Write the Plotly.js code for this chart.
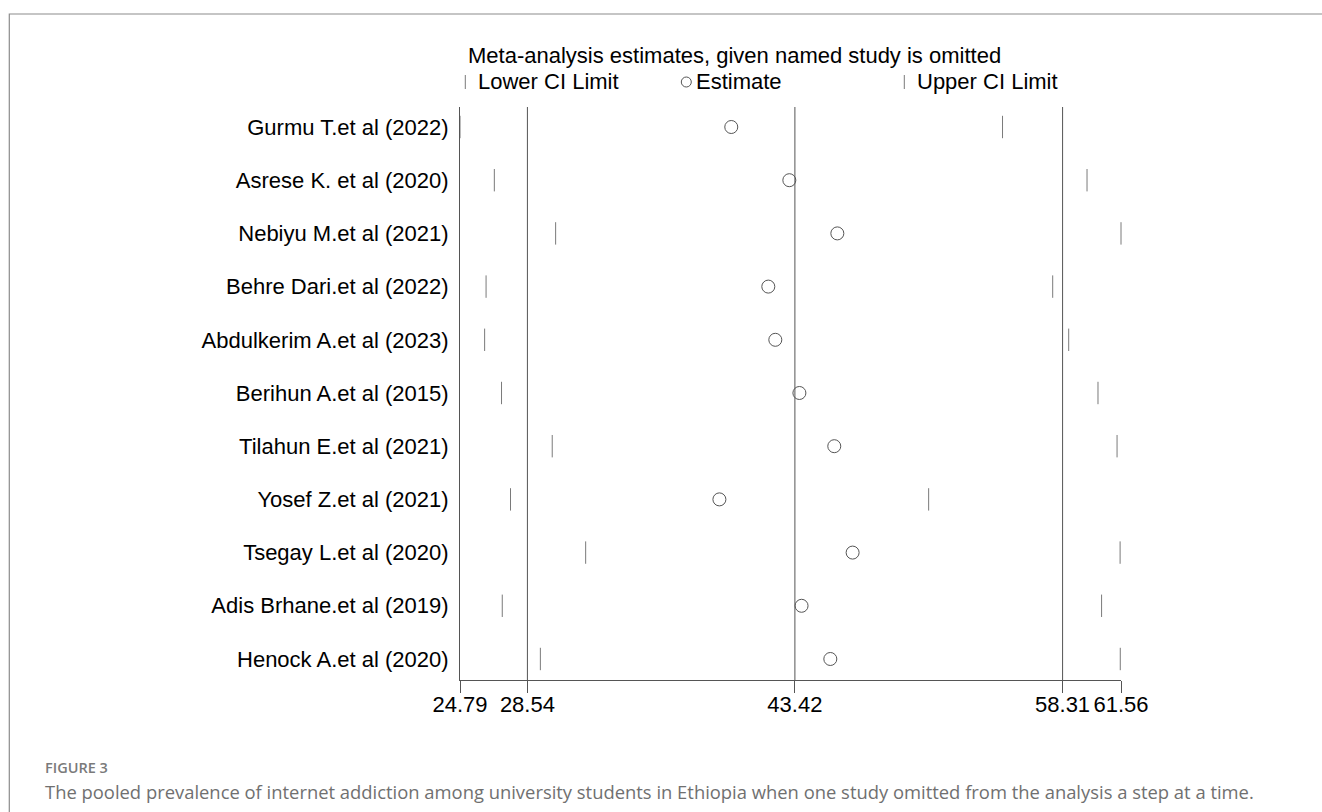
<!DOCTYPE html>
<html>
<head>
<meta charset="utf-8">
<script src="https://cdn.plot.ly/plotly-3.0.1.min.js"></script>
<style>
  html, body { margin: 0; padding: 0; background: #ffffff; }
  #chart { width: 1322px; height: 812px; }
</style>
</head>
<body>
<div id="chart"></div>
<script>
// ---- data ----
const studies = [
  "Gurmu T.et al (2022)",
  "Asrese K. et al (2020)",
  "Nebiyu M.et al (2021)",
  "Behre Dari.et al (2022)",
  "Abdulkerim A.et al (2023)",
  "Berihun A.et al (2015)",
  "Tilahun E.et al (2021)",
  "Yosef Z.et al (2021)",
  "Tsegay L.et al (2020)",
  "Adis Brhane.et al (2019)",
  "Henock A.et al (2020)"
];
const lowerCI  = [24.79, 26.70, 30.11, 26.24, 26.16, 27.10, 29.92, 27.60, 31.78, 27.14, 29.26];
const estimate = [39.88, 43.11, 45.78, 41.94, 42.33, 43.67, 45.61, 39.22, 46.63, 43.79, 45.39];
const upperCI  = [54.97, 59.67, 61.56, 57.76, 58.65, 60.28, 61.34, 50.86, 61.51, 60.48, 61.52];
const xTickVals = [24.79, 28.54, 43.42, 58.31, 61.56];
const xTickText = ["24.79", "28.54", "43.42", "58.31", "61.56"];
const refLines  = [28.54, 43.42, 58.31];   // pooled lower CI, estimate, upper CI

const titleText = "Meta-analysis estimates, given named study is omitted";
const legendLabels = ["Lower CI Limit", "Estimate", "Upper CI Limit"];
const figLabel = "FIGURE 3";
const captionText = "The pooled prevalence of internet addiction among university students in Ethiopia when one study omitted from the analysis a step at a time.";

// ---- layout geometry (pixels) ----
const W = 1322, H = 812;
const plotL = 459.7, plotR = 1120.7, plotT = 107, plotB = 680;
const pw = plotR - plotL, ph = plotB - plotT;
const px = x => (x - plotL) / pw;
const py = y => (plotB - y) / ph;

const FONT = "Liberation Sans, Arial, sans-serif";
const LINE = "#555555";
const TICKC = "#7a7a7a";

const traces = [
  {
    type: "scatter", mode: "markers", x: lowerCI, y: studies,
    marker: { symbol: "line-ns", size: 16, line: { width: 1, color: TICKC }, color: TICKC },
    hoverinfo: "x+y", showlegend: false, cliponaxis: false
  },
  {
    type: "scatter", mode: "markers", x: estimate, y: studies,
    marker: { symbol: "circle-open", size: 13, line: { width: 1, color: "#555555" }, color: "#555555" },
    hoverinfo: "x+y", showlegend: false, cliponaxis: false
  },
  {
    type: "scatter", mode: "markers", x: upperCI, y: studies,
    marker: { symbol: "line-ns", size: 16, line: { width: 1, color: TICKC }, color: TICKC },
    hoverinfo: "x+y", showlegend: false, cliponaxis: false
  }
];

const shapes = refLines.map(v => ({
  type: "line", xref: "x", yref: "paper", x0: v, x1: v, y0: 0, y1: 1,
  line: { color: LINE, width: 1 }, layer: "below"
}));

// legend symbols
const legY = 82;
shapes.push({ type: "line", xref: "paper", yref: "paper",
  x0: px(465), x1: px(465), y0: py(legY - 7), y1: py(legY + 7), line: { color: TICKC, width: 1 } });
shapes.push({ type: "line", xref: "paper", yref: "paper",
  x0: px(904), x1: px(904), y0: py(legY - 7), y1: py(legY + 7), line: { color: TICKC, width: 1 } });
shapes.push({ type: "circle", xref: "paper", yref: "paper",
  x0: px(686 - 5), x1: px(686 + 5), y0: py(legY + 5), y1: py(legY - 5), line: { color: "#555555", width: 1 } });

// outer frame
shapes.push({ type: "rect", xref: "paper", yref: "paper",
  x0: px(9), x1: px(1340), y0: py(840), y1: py(14),
  line: { color: "#8c8c8c", width: 1.2 }, fillcolor: "rgba(0,0,0,0)" });

const annotations = [
  { text: titleText, xref: "paper", yref: "paper", x: px(466), y: py(56),
    xanchor: "left", yanchor: "middle", showarrow: false, font: { family: FONT, size: 22, color: "#000" } },
  { text: legendLabels[0], xref: "paper", yref: "paper", x: px(476), y: py(legY),
    xanchor: "left", yanchor: "middle", showarrow: false, font: { family: FONT, size: 22, color: "#000" } },
  { text: legendLabels[1], xref: "paper", yref: "paper", x: px(694), y: py(legY),
    xanchor: "left", yanchor: "middle", showarrow: false, font: { family: FONT, size: 22, color: "#000" } },
  { text: legendLabels[2], xref: "paper", yref: "paper", x: px(915), y: py(legY),
    xanchor: "left", yanchor: "middle", showarrow: false, font: { family: FONT, size: 22, color: "#000" } },
  { text: figLabel, xref: "paper", yref: "paper", x: px(43), y: py(767),
    xanchor: "left", yanchor: "middle", showarrow: false,
    font: { family: "Open Sans, sans-serif", size: 14.5, color: "#7a7a7a", weight: 600 } },
  { text: captionText, xref: "paper", yref: "paper", x: px(43), y: py(791),
    xanchor: "left", yanchor: "middle", showarrow: false,
    font: { family: "Open Sans, sans-serif", size: 18.4, color: "#707070" } }
];

const layout = {
  width: W, height: H,
  margin: { l: plotL, r: W - plotR, t: plotT, b: H - plotB, pad: 0 },
  paper_bgcolor: "#ffffff", plot_bgcolor: "#ffffff",
  showlegend: false,
  xaxis: {
    range: [xTickVals[0], xTickVals[xTickVals.length - 1]],
    tickmode: "array", tickvals: xTickVals, ticktext: xTickText, tickangle: 0,
    showgrid: false, zeroline: false, showline: true, linecolor: LINE, linewidth: 1,
    ticks: "outside", ticklen: 12, tickwidth: 1, tickcolor: LINE,
    ticklabelstandoff: -7,
    tickfont: { family: FONT, size: 22, color: "#000" }
  },
  yaxis: {
    type: "category", categoryorder: "array", categoryarray: studies,
    range: [10.395, -0.376],
    showgrid: false, zeroline: false, showline: true, linecolor: LINE, linewidth: 1,
    ticks: "", ticklabelstandoff: 6,
    tickfont: { family: FONT, size: 22, color: "#000" }
  },
  shapes: shapes,
  annotations: annotations
};

Plotly.newPlot("chart", traces, layout, { staticPlot: true, displayModeBar: false });
</script>
</body>
</html>
